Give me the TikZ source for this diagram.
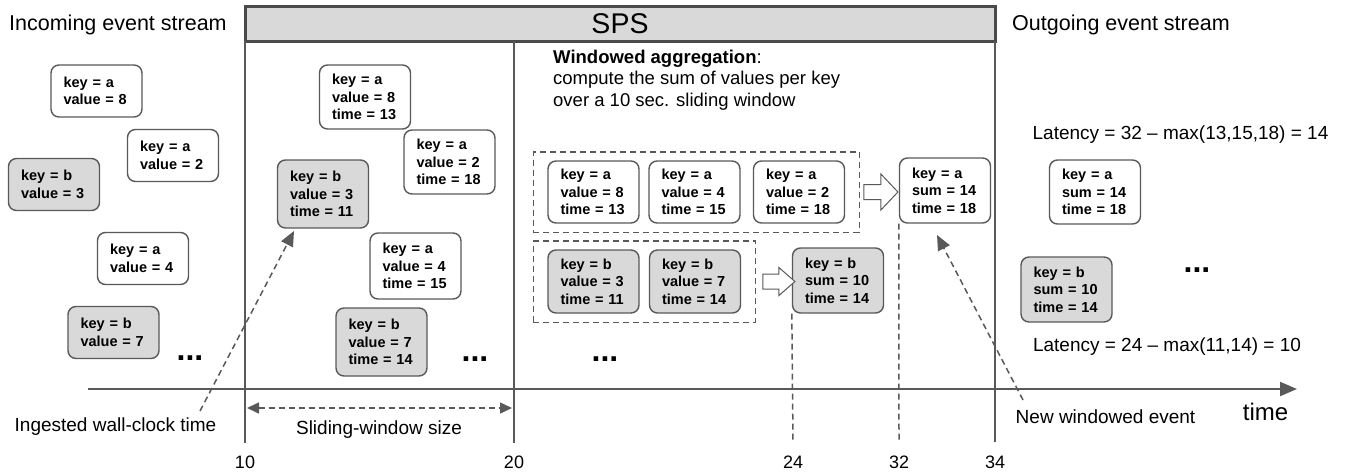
\documentclass[tikz,border=0pt]{standalone}
\usepackage{fontspec}
\setmainfont{Liberation Sans}
\usetikzlibrary{arrows.meta,fit,calc}
\definecolor{lg}{HTML}{595959}
\definecolor{fg}{HTML}{D9D9D9}
\definecolor{hb}{HTML}{4A4A4A}
\begin{document}
\begin{tikzpicture}[x=1pt,y=-1pt,
  ev/.style={draw=lg, line width=1.4pt, rounded corners=8pt, fill=white, text width=66pt,
    inner xsep=12.5pt, inner ysep=0pt, align=left, font=\bfseries\fontsize{14.5}{17.5}\selectfont},
  gr/.style={fill=fg},
  lbl/.style={inner sep=0pt, font=\fontsize{19}{22}\selectfont},
  ttl/.style={inner sep=0pt, anchor=west, font=\fontsize{21.5}{24}\selectfont},
  tick/.style={inner sep=0pt, font=\fontsize{18}{18}\selectfont},
  dots/.style={inner sep=0pt, font=\bfseries\fontsize{32}{32}\selectfont},
  vline/.style={draw=lg, line width=1.5pt},
  dline/.style={draw=lg, line width=1.5pt, dash pattern=on 6pt off 4pt},
  dashar/.style={dline, -{Triangle[length=15pt,width=13pt]}},
  grp/.style={draw=lg, line width=1.4pt, dash pattern=on 6pt off 4pt, inner xsep=14pt, inner ysep=8.5pt},
  hollow/.style={draw=lg, line width=1pt, fill=white}
]
\useasboundingbox (0,0) rectangle (1351,472);

% header
\node[draw=hb, line width=3pt, fill=fg, minimum width=750pt, minimum height=35pt, inner sep=0pt,
  font=\fontsize{28.5}{30}\selectfont] (sps) at (620,23.5) {SPS};

% titles
\node[ttl] (tin) at (9,25) {Incoming event stream};
\node[ttl] (tout) at (1012,25) {Outgoing event stream};

% coordinates for lines
\coordinate (t10) at (245,443);
\coordinate (t20) at (514,443);
\coordinate (t34) at (995,442);
\coordinate (h10) at (245,41);
\coordinate (h20) at (514,41);
\coordinate (h34) at (995,41);
\draw[vline] (h10) -- (t10);
\draw[vline] (h20) -- (t20);
\draw[vline] (h34) -- (t34);

% axis
\coordinate (ax0) at (88,389);
\coordinate (ax1) at (1297,389);
\draw[lg, line width=2pt, -{Triangle[length=17pt,width=14pt]}] (ax0) -- (ax1);

% incoming events
\node[ev, minimum height=52pt] (ia8) at (96.5,91) {key = a\\value = 8};
\node[ev, minimum height=52pt] (ia2) at (173,155.5) {key = a\\value = 2};
\node[ev, gr, minimum height=52pt] (ib3) at (54,184.5) {key = b\\value = 3};
\node[ev, minimum height=52pt] (ia4) at (143,258.5) {key = a\\value = 4};
\node[ev, gr, minimum height=52pt] (ib7) at (113.5,332.5) {key = b\\value = 7};
\node[dots] (d1) at (190,358) {...};

% ingested events
\node[ev, minimum height=64pt] (wa8) at (365,97) {key = a\\value = 8\\time = 13};
\node[ev, minimum height=64pt] (wa2) at (449.5,162) {key = a\\value = 2\\time = 18};
\node[ev, gr, minimum height=68pt] (wb3) at (323,194) {key = b\\value = 3\\time = 11};
\node[ev, minimum height=66pt] (wa4) at (415.5,266) {key = a\\value = 4\\time = 15};
\node[ev, gr, minimum height=68pt] (wb7) at (381.5,342) {key = b\\value = 7\\time = 14};
\node[dots] (d2) at (475,359) {...};

% windowed aggregation
\node[inner sep=0pt, anchor=north west, align=left, font=\fontsize{18.5}{21.5}\selectfont] (wag) at (553,49.5)
  {\textbf{Windowed aggregation}:\\compute the sum of values per key\\over a 10 sec. sliding window};

\node[ev, minimum height=62pt] (sa8) at (593.5,192) {key = a\\value = 8\\time = 13};
\node[ev, minimum height=62pt] (sa4) at (694.5,192) {key = a\\value = 4\\time = 15};
\node[ev, minimum height=62pt] (sa2) at (799,192) {key = a\\value = 2\\time = 18};
\node[grp, fit=(sa8)(sa2)] (ga) {};
\node[ev, minimum height=65pt] (suma) at (945,190.5) {key = a\\sum = 14\\time = 18};

\node[ev, gr, minimum height=63pt] (sb3) at (593.5,281.5) {key = b\\value = 3\\time = 11};
\node[ev, gr, minimum height=63pt] (sb7) at (695,281.5) {key = b\\value = 7\\time = 14};
\node[grp, fit=(sb3)(sb7)] (gb) {};
\node[ev, gr, minimum height=65pt] (sumb) at (838,280.5) {key = b\\sum = 10\\time = 14};
\node[dots] (d3) at (605,359) {...};

% hollow arrows
\draw[hollow] ($(ga.east)+(4,-7.5)$) -- ++(17,0) -- ++(0,-10.5) -- ++(17,18) -- ++(-17,18)
  -- ++(0,-10.5) -- ++(-17,0) -- cycle;
\draw[hollow] ($(gb.east)+(7,-7.5)$) -- ++(16,0) -- ++(0,-6.5) -- ++(16,14) -- ++(-16,14)
  -- ++(0,-6.5) -- ++(-16,0) -- cycle;

% emission time lines
\coordinate (t24) at (793,443);
\coordinate (t32) at (899,443);
\draw[dline] (sumb.south west) -- (t24);
\draw[dline] (suma.south west) -- (t32);

% outgoing
\node[lbl] (lat1) at (1180.5,135) {Latency = 32 – max(13,15,18) = 14};
\node[ev, minimum height=64pt] (oa) at (1095,192) {key = a\\sum = 14\\time = 18};
\node[ev, gr, minimum height=65pt] (ob) at (1066.5,289.5) {key = b\\sum = 10\\time = 14};
\node[dots] (d4) at (1197,270) {...};
\node[lbl] (lat2) at (1167,347) {Latency = 24 – max(11,14) = 10};

% labels and annotation arrows
\node[lbl] (ling) at (115.5,427) {Ingested wall-clock time};
\coordinate (ingtail) at (200,411);
\coordinate (ingtip) at (294,231);
\draw[dashar] (ingtail) -- (ingtip);

\node[lbl] (lsw) at (379,430) {Sliding-window size};
\coordinate (sw0) at (247,408);
\coordinate (sw1) at (512,408);
\draw[dline, {Triangle[length=12pt,width=11pt]}-{Triangle[length=12pt,width=11pt]}] (sw0) -- (sw1);

\node[lbl] (lnew) at (1105.5,417) {New windowed event};
\coordinate (newtail) at (1023,400);
\coordinate (newtip) at (937,235);
\draw[dashar] (newtail) -- (newtip);

\node[inner sep=0pt, font=\fontsize{24}{24}\selectfont] (ltime) at (1265.5,412) {time};

% ticks
\node[tick] (n10) at (245,462) {10};
\node[tick] (n20) at (514,462) {20};
\node[tick] (n24) at (793,462) {24};
\node[tick] (n32) at (899,462) {32};
\node[tick] (n34) at (995,462) {34};
\end{tikzpicture}
\end{document}
